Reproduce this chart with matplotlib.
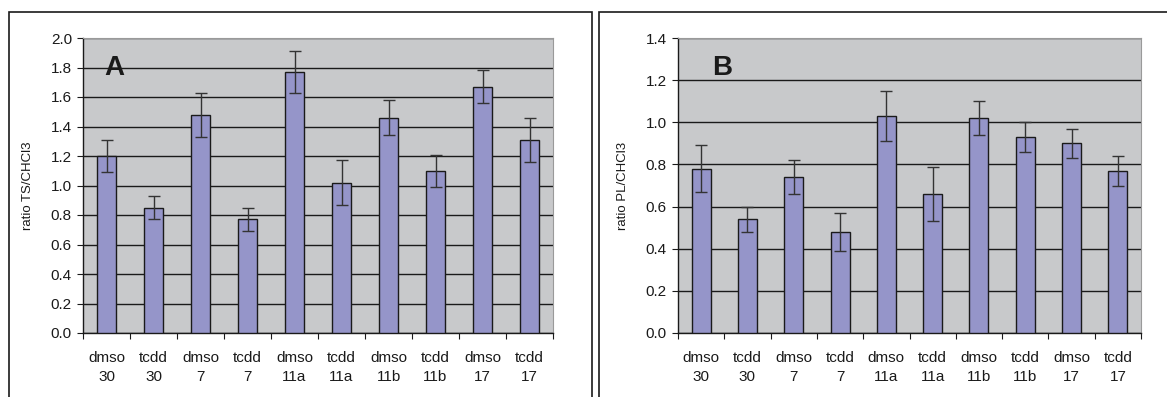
import matplotlib

matplotlib.use("Agg")
import matplotlib.pyplot as plt
from matplotlib.patches import Rectangle
from matplotlib.ticker import FixedLocator, NullFormatter

plt.rcParams["font.family"] = ["Liberation Sans", "DejaVu Sans"]

# --- dados ---
CATEGORIAS = ["dmso\n30", "tcdd\n30", "dmso\n7", "tcdd\n7", "dmso\n11a",
              "tcdd\n11a", "dmso\n11b", "tcdd\n11b", "dmso\n17", "tcdd\n17"]
TS_VALORES = [1.20, 0.85, 1.48, 0.77, 1.77, 1.02, 1.46, 1.10, 1.67, 1.31]
TS_ERROS = [0.11, 0.08, 0.15, 0.08, 0.14, 0.15, 0.12, 0.11, 0.11, 0.15]
PL_VALORES = [0.78, 0.54, 0.74, 0.48, 1.03, 0.66, 1.02, 0.93, 0.90, 0.77]
PL_ERROS = [0.11, 0.06, 0.08, 0.09, 0.12, 0.13, 0.08, 0.07, 0.07, 0.07]

BAR = "#9595c9"
PLOT_BG = "#c8c9cb"
INK = "#1a1a1a"

W, H = 1167, 397
fig = plt.figure(figsize=(W / 100, H / 100), dpi=100)
fig.patch.set_facecolor("white")

# molduras dos dois painéis (estilo Excel)
for x0, x1 in ((9, 592), (599, 1180)):
    fig.patches.append(Rectangle((x0 / W, -0.05), (x1 - x0) / W, 1.05 - 12 / H,
                                 transform=fig.transFigure, fill=False,
                                 edgecolor=INK, linewidth=1.2))


def painel(left_px, right_px, valores, erros, ymax, letra, letra_x, ylabel):
    ax = fig.add_axes([left_px / W, (H - 333) / H, (right_px - left_px) / W, 295 / H])
    ax.set_facecolor(PLOT_BG)
    xs = list(range(len(CATEGORIAS)))
    ax.bar(xs, valores, width=0.41, color=BAR, edgecolor=INK, linewidth=1.0, zorder=3)
    ax.errorbar(xs, valores, yerr=erros, fmt="none", ecolor="#333333",
                elinewidth=1.0, capsize=4, capthick=1.0, zorder=4)
    ax.set_xlim(-0.5, len(CATEGORIAS) - 0.5)
    ax.set_ylim(0, ymax)
    yt = [round(i * 0.2, 1) for i in range(int(round(ymax / 0.2)) + 1)]
    ax.set_yticks(yt)
    ax.set_yticklabels([f"{v:.1f}" for v in yt], fontsize=11, color=INK)
    ax.grid(axis="y", color=INK, linewidth=1.0, zorder=1)
    ax.set_axisbelow(True)
    ax.xaxis.set_major_locator(FixedLocator([i - 0.5 for i in range(len(CATEGORIAS) + 1)]))
    ax.xaxis.set_major_formatter(NullFormatter())
    ax.xaxis.set_minor_locator(FixedLocator(xs))
    ax.set_xticklabels(CATEGORIAS, minor=True, fontsize=11, color=INK, linespacing=1.45)
    ax.tick_params(axis="x", which="minor", length=0, pad=13)
    ax.tick_params(axis="x", which="major", direction="out", length=4, color=INK)
    ax.tick_params(axis="y", direction="out", length=4, color=INK, pad=4)
    for s in ("top", "right"):
        ax.spines[s].set_color("#9a9a9a")
    for s in ("left", "bottom"):
        ax.spines[s].set_color(INK)
        ax.spines[s].set_linewidth(1.0)
    ax.set_ylabel(ylabel, fontsize=9.5, color=INK, labelpad=12)
    ax.text(letra_x, 0.90, letra, transform=ax.transAxes, fontsize=20,
            fontweight="bold", color=INK, va="center", ha="left")
    return ax


painel(83, 553, TS_VALORES, TS_ERROS, 2.0, "A", 0.045, "ratio TS/CHCl3")
painel(678, 1141, PL_VALORES, PL_ERROS, 1.4, "B", 0.074, "ratio PL/CHCl3")

fig.savefig("out.png", dpi=100, facecolor="white")
